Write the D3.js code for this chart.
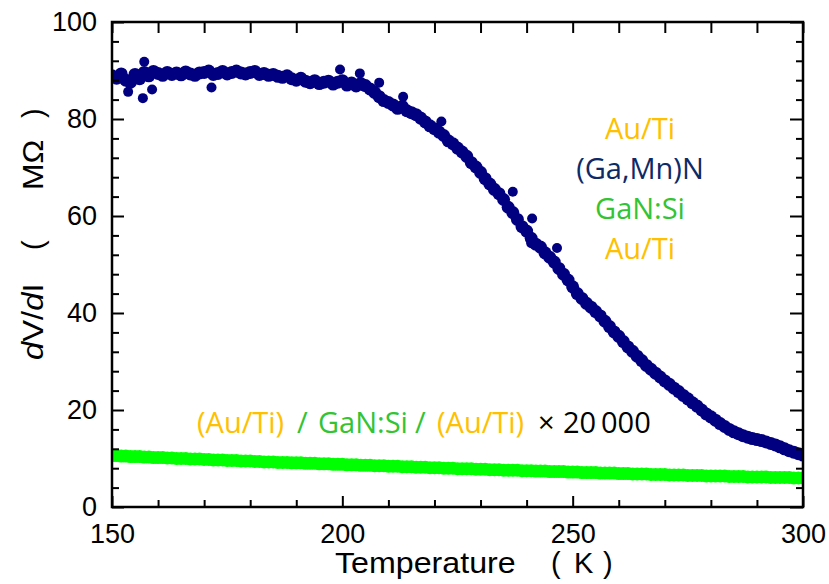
<!DOCTYPE html>
<html>
<head>
<meta charset="utf-8">
<script src="https://cdn.jsdelivr.net/npm/d3@7"></script>
<style>
body { margin: 0; background: #fff; }
text { white-space: pre; }
</style>
</head>
<body>
<div id="chart"></div>
<script>
// temperatures (K) and dV/dI values (MOhm)
const tempK = d3.range(150, 301);

const gamnn = [
  88.9, 88.4, 89.3, 88.0, 87.6, 89.2, 88.3, 89.6, 88.9, 89.8,
  89.4, 89.0, 89.6, 89.2, 89.5, 89.1, 89.7, 89.3, 89.0, 89.5,
  89.6, 89.9, 89.2, 89.4, 89.8, 89.3, 89.6, 89.9, 89.5, 89.3,
  89.6, 89.8, 89.2, 89.4, 89.0, 89.2, 88.8, 88.6, 88.9, 88.3,
  88.0, 88.4, 87.8, 87.5, 87.9, 87.3, 87.6, 87.8, 87.2, 87.6,
  87.9, 87.0, 87.4, 86.8, 87.3, 86.9, 86.2, 85.5, 84.6, 83.8,
  83.4, 82.9, 82.2, 82.6, 81.7, 81.3, 80.9, 80.2, 79.4, 78.6,
  78.0, 77.3, 76.6, 75.5, 74.9, 74.0, 73.2, 72.3, 71.0, 70.1,
  69.0, 67.7, 66.6, 65.5, 64.6, 63.4, 61.8, 60.7, 59.3, 57.8,
  56.9, 55.4, 54.2, 53.6, 52.4, 51.5, 50.5, 49.2, 48.0, 46.8,
  45.4, 44.0, 43.0, 42.0, 41.2, 40.3, 39.4, 38.3, 37.2, 36.1,
  35.2, 34.1, 33.0, 32.1, 31.1, 30.2, 29.2, 28.4, 27.6, 26.8,
  26.0, 25.3, 24.5, 23.8, 23.0, 22.3, 21.5, 20.8, 20.0, 19.2,
  18.6, 17.9, 17.2, 16.6, 16.0, 15.5, 15.1, 14.7, 14.4, 14.1,
  13.9, 13.7, 13.4, 13.1, 12.8, 12.4, 12.0, 11.6, 11.3, 11.0,
  10.7
];

// scattered points off the main band
const gamnnExtraT = [153.5, 156.7, 158.7, 157.0, 171.6, 199.5, 203.8, 208.0, 213.2, 221.5, 237.0, 241.2, 241.0, 246.6];
const gamnnExtraV = [85.6, 84.3, 86.1, 91.8, 86.5, 90.2, 89.4, 87.5, 84.6, 79.5, 65.0, 59.5, 54.4, 53.4];

// GaN:Si reference, already multiplied by 20 000
const gansi = [
  10.6, 10.6, 10.5, 10.5, 10.4, 10.4, 10.4, 10.3, 10.3, 10.2,
  10.2, 10.2, 10.1, 10.1, 10.0, 10.0, 10.0, 9.9, 9.9, 9.9,
  9.8, 9.8, 9.7, 9.7, 9.7, 9.6, 9.6, 9.6, 9.5, 9.5,
  9.5, 9.4, 9.4, 9.3, 9.3, 9.3, 9.2, 9.2, 9.2, 9.1,
  9.1, 9.1, 9.0, 9.0, 9.0, 8.9, 8.9, 8.9, 8.8, 8.8,
  8.8, 8.7, 8.7, 8.7, 8.6, 8.6, 8.6, 8.5, 8.5, 8.5,
  8.4, 8.4, 8.4, 8.3, 8.3, 8.3, 8.2, 8.2, 8.2, 8.1,
  8.1, 8.1, 8.0, 8.0, 8.0, 7.9, 7.9, 7.9, 7.9, 7.8,
  7.8, 7.8, 7.7, 7.7, 7.7, 7.6, 7.6, 7.6, 7.6, 7.5,
  7.5, 7.5, 7.4, 7.4, 7.4, 7.3, 7.3, 7.3, 7.3, 7.2,
  7.2, 7.2, 7.1, 7.1, 7.1, 7.1, 7.0, 7.0, 7.0, 7.0,
  6.9, 6.9, 6.9, 6.8, 6.8, 6.8, 6.8, 6.7, 6.7, 6.7,
  6.7, 6.6, 6.6, 6.6, 6.6, 6.5, 6.5, 6.5, 6.5, 6.4,
  6.4, 6.4, 6.4, 6.4, 6.3, 6.3, 6.3, 6.3, 6.2, 6.2,
  6.2, 6.2, 6.2, 6.1, 6.1, 6.1, 6.1, 6.1, 6.0, 6.0,
  6.0
];

const xMajor = [150, 200, 250, 300];
const xMinor = [160, 170, 180, 190, 210, 220, 230, 240, 260, 270, 280, 290];
const yMajor = [0, 20, 40, 60, 80, 100];
const yMinor = [4, 8, 12, 16, 24, 28, 32, 36, 44, 48, 52, 56, 64, 68, 72, 76, 84, 88, 92, 96];

const stackLabels = ["Au/Ti", "(Ga,Mn)N", "GaN:Si", "Au/Ti"];

const orange = "#FFC000", navyText = "#0E2A66", greenText = "#33C433";
const stackColors = [orange, navyText, greenText, orange];

const W = 829, H = 584;
const mLeft = 112, mRight = 803, mTop = 22, mBottom = 507;

const svg = d3.select("#chart").append("svg")
    .attr("width", W).attr("height", H);

const x = d3.scaleLinear().domain([150, 300]).range([mLeft, mRight]);
const y = d3.scaleLinear().domain([0, 100]).range([mBottom, mTop]);

svg.append("clipPath").attr("id", "plot")
  .append("rect")
    .attr("x", mLeft).attr("y", mTop)
    .attr("width", mRight - mLeft).attr("height", mBottom - mTop);

const pts = svg.append("g").attr("clip-path", "url(#plot)");

// green band
pts.selectAll("circle.g")
    .data(gansi).enter().append("circle")
    .attr("class", "g")
    .attr("cx", (d, i) => x(tempK[i]))
    .attr("cy", d => y(d))
    .attr("r", 6.5)
    .attr("fill", "#00FF00");

// (Ga,Mn)N curve
pts.selectAll("circle.b")
    .data(gamnn).enter().append("circle")
    .attr("class", "b")
    .attr("cx", (d, i) => x(tempK[i]))
    .attr("cy", d => y(d))
    .attr("r", 6.5)
    .attr("fill", "#000080");

pts.selectAll("circle.e")
    .data(gamnnExtraV).enter().append("circle")
    .attr("class", "e")
    .attr("cx", (d, i) => x(gamnnExtraT[i]))
    .attr("cy", d => y(d))
    .attr("r", 5)
    .attr("fill", "#000080");

// axes, ticks pointing inward
const tickFont = "'Liberation Sans', Arial, sans-serif";

function styleAxis(g) {
  g.select(".domain").remove();
  g.selectAll("line").attr("stroke", "#000").attr("stroke-width", 2);
  g.selectAll("text").attr("fill", "#000")
    .attr("font-size", 27).attr("font-family", tickFont);
}

svg.append("g").attr("transform", `translate(0,${mBottom})`)
  .call(d3.axisBottom(x).tickValues(xMajor).tickSize(-11).tickPadding(17).tickFormat(d3.format("d")))
  .call(styleAxis);
svg.append("g").attr("transform", `translate(0,${mBottom})`)
  .call(d3.axisBottom(x).tickValues(xMinor).tickSize(-7).tickFormat(""))
  .call(styleAxis);
svg.append("g").attr("transform", `translate(0,${mTop})`)
  .call(d3.axisTop(x).tickValues(xMajor.concat(xMinor)).tickSize(-11).tickFormat(""))
  .call(styleAxis);

svg.append("g").attr("transform", `translate(${mLeft},0)`)
  .call(d3.axisLeft(y).tickValues(yMajor).tickSize(-12).tickPadding(15))
  .call(styleAxis);
svg.append("g").attr("transform", `translate(${mLeft},0)`)
  .call(d3.axisLeft(y).tickValues(yMinor).tickSize(-7).tickFormat(""))
  .call(styleAxis);
svg.append("g").attr("transform", `translate(${mRight},0)`)
  .call(d3.axisRight(y).tickValues(yMajor).tickSize(-13).tickFormat(""))
  .call(styleAxis);
svg.append("g").attr("transform", `translate(${mRight},0)`)
  .call(d3.axisRight(y).tickValues(yMinor).tickSize(-7).tickFormat(""))
  .call(styleAxis);

svg.append("rect")
    .attr("x", mLeft).attr("y", mTop)
    .attr("width", mRight - mLeft).attr("height", mBottom - mTop)
    .attr("fill", "none").attr("stroke", "#000").attr("stroke-width", 2.5);

// axis titles (original font is a little wider than Arial, hence the scale)
const xt = svg.append("g").attr("font-family", tickFont).attr("font-size", 29);
xt.append("text").attr("transform", "translate(335,573) scale(1.11,1)").text("Temperature");
xt.append("text").attr("x", 551).attr("y", 573).text("(");
xt.append("text").attr("x", 574).attr("y", 573).text("K");
xt.append("text").attr("x", 603).attr("y", 573).text(")");

const yg = svg.append("g")
    .attr("transform", "translate(43,0) rotate(-90)")
    .attr("font-family", tickFont).attr("font-size", 29);
const yt = yg.append("text").attr("transform", "translate(-360,0) scale(1.13,1)");
yt.append("tspan").attr("font-style", "italic").text("d");
yt.append("tspan").text("V/");
yt.append("tspan").attr("font-style", "italic").text("d");
yt.append("tspan").text("I");
yg.append("text").attr("x", -250).text("(");
yg.append("text").attr("transform", "translate(-190,0) scale(1.1,1)").text("MΩ");
yg.append("text").attr("x", -118).text(")");

// layer stack annotation
const annFont = "'Open Sans', sans-serif";
svg.append("g").selectAll("text")
    .data(stackLabels).enter().append("text")
    .attr("x", 640)
    .attr("y", (d, i) => 139 + i * 40)
    .attr("text-anchor", "middle")
    .attr("font-family", annFont).attr("font-size", 29)
    .attr("fill", (d, i) => stackColors[i])
    .text(d => d);

const noteParts = ["(Au/Ti)", "/", "GaN:Si", "/", "(Au/Ti)", "×", "20\u2009000"];
const noteX = [197, 297, 318, 415, 437, 538, 563];
const noteColors = [orange, greenText, greenText, greenText, orange, "#000", "#000"];
svg.append("g").selectAll("text")
    .data(noteParts).enter().append("text")
    .attr("x", (d, i) => noteX[i])
    .attr("y", 433)
    .attr("font-family", annFont).attr("font-size", 29)
    .attr("fill", (d, i) => noteColors[i])
    .text(d => d);
</script>
</body>
</html>
